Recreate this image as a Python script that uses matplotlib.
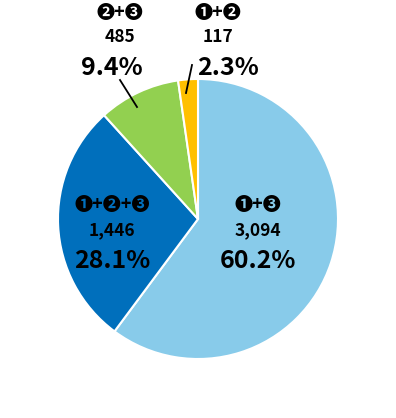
import matplotlib.pyplot as plt

plt.rcParams['font.family'] = ['Noto Sans CJK JP', 'DejaVu Sans']

groups = ['❶+❸', '❶+❷+❸', '❷+❸', '❶+❷']
counts = [3094, 1446, 485, 117]
pcts = ['60.2%', '28.1%', '9.4%', '2.3%']
colors = ['#88cbea', '#006fbc', '#92d050', '#ffc000']

W, H = 396, 418
fig = plt.figure(figsize=(W / 100, H / 100), dpi=100)
ax = fig.add_axes([0, 0, 1, 1])

cx, cy, r = 198, H - 219, 140
ax.pie(counts, colors=colors, startangle=90, counterclock=False,
       center=(cx, cy), radius=r, frame=True,
       wedgeprops=dict(edgecolor='white', linewidth=1.5))
ax.set_xlim(0, W)
ax.set_ylim(0, H)
ax.set_aspect('equal')
ax.axis('off')

# label positions in pixel coords (x, top line y)
pos = [(258, 205), (112, 205), (120, 12), (218, 12)]
pct_x = [258, 112, 112, 228]
for k in range(4):
    x, y = pos[k]
    ax.text(x, H - y, groups[k], ha='center', va='center', fontsize=13, fontweight='bold')
    ax.text(x, H - (y + 25), f'{counts[k]:,}', ha='center', va='center',
            fontsize=12.5, fontweight='bold')
    ax.text(pct_x[k], H - (y + 56), pcts[k], ha='center', va='center',
            fontsize=18, fontweight='bold')

ax.plot([120, 137], [H - 80, H - 107], color='black', lw=1.3)
ax.plot([192, 186], [H - 65, H - 93], color='black', lw=1.3)

fig.savefig('out.png', dpi=100)
